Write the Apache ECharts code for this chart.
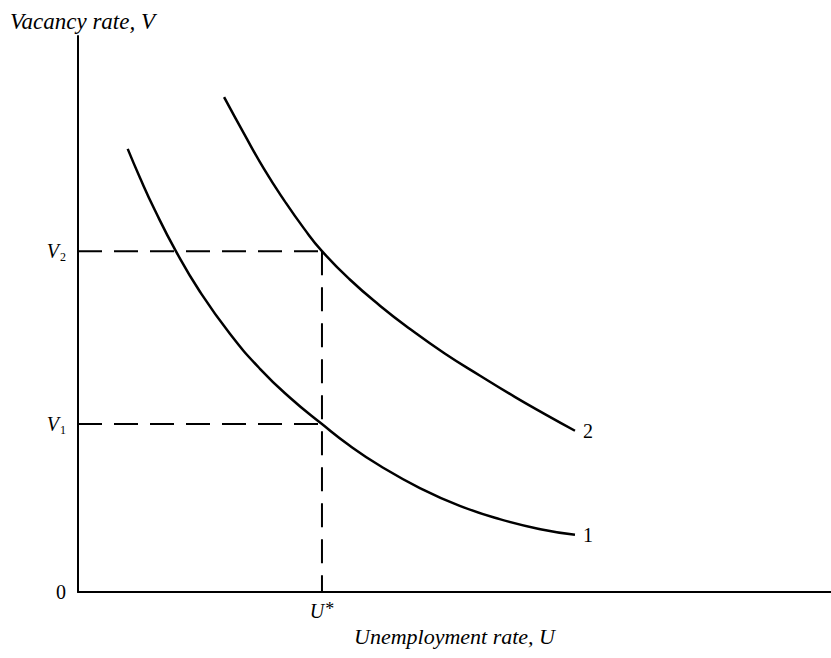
<!DOCTYPE html>
<html>
<head>
<meta charset="utf-8">
<script src="https://cdn.jsdelivr.net/npm/echarts@6/dist/echarts.min.js"></script>
<style>
html,body{margin:0;padding:0;background:#fff;}
#chart{width:831px;height:658px;}
</style>
</head>
<body>
<div id="chart"></div>
<script>
// ---- data (arbitrary 0-100 units) ----
const uStar = 32.4;
const v1 = 30.2;
const v2 = 61.3;

const curve1U = [6.6, 8.2, 10.2, 13.0, 16.2, 20.2, 24.2, 28.2, 32.4, 36.1, 40.1, 45.4, 50.7, 56.0, 61.4, 66.0];
const curve1V = [79.7, 74.6, 68.7, 61.3, 54.0, 46.4, 40.1, 34.9, 30.2, 26.3, 22.7, 18.7, 15.5, 13.1, 11.3, 10.3];

const curve2U = [19.4, 22.1, 24.7, 27.4, 30.0, 32.4, 36.1, 40.1, 44.1, 48.7, 53.4, 58.0, 62.0, 66.0];
const curve2V = [89.0, 82.3, 76.1, 70.4, 65.4, 61.3, 56.2, 51.5, 47.3, 42.9, 38.9, 35.1, 32.0, 29.0];

const curveNames = ['1', '2'];
const yTickValues = [0, v1, v2];
const yTickTexts = ['0', '{v|V}{s|1}', '{v|V}{s|2}'];
const xTickValues = [uStar];
const xTickTexts = ['{v|U}{n|*}'];

const xTitle = 'Unemployment rate, U';
const yTitle = 'Vacancy rate, V';

// ---- chart ----
const SERIF = '"Liberation Serif", "DejaVu Serif", serif';
const zip = (a, b) => a.map((x, i) => [x, b[i]]);
const rich = {
  v: { fontFamily: SERIF, fontStyle: 'italic', fontSize: 20, color: '#000' },
  s: { fontFamily: SERIF, fontSize: 12, color: '#000', padding: [12, 0, 0, 1] },
  n: { fontFamily: SERIF, fontSize: 18, color: '#000', padding: [0, 0, 4, 1] }
};
function labelFor(values, texts) {
  return function (val) {
    for (let i = 0; i < values.length; i++) {
      if (Math.abs(values[i] - val) < 1e-6) return texts[i];
    }
    return '';
  };
}
const dash = [24, 12];
const chart = echarts.init(document.getElementById('chart'), null, { renderer: 'svg' });
chart.setOption({
  animation: false,
  backgroundColor: '#fff',
  title: {
    text: yTitle,
    left: 5, top: 5,
    textStyle: { fontFamily: SERIF, fontStyle: 'italic', fontWeight: 'normal', fontSize: 23, color: '#000' }
  },
  grid: { left: 78, right: 0, top: 36, bottom: 66 },
  xAxis: {
    type: 'value', min: 0, max: 100,
    name: xTitle, nameLocation: 'middle', nameGap: 18,
    nameTextStyle: { fontFamily: SERIF, fontStyle: 'italic', fontSize: 22, color: '#000' },
    axisLine: { show: true, onZero: false, lineStyle: { color: '#000', width: 2 } },
    axisTick: { show: false },
    splitLine: { show: false },
    axisLabel: {
      customValues: xTickValues, margin: 8,
      formatter: labelFor(xTickValues, xTickTexts), rich: rich
    }
  },
  yAxis: {
    type: 'value', min: 0, max: 100,
    axisLine: { show: true, onZero: false, lineStyle: { color: '#000', width: 2 } },
    axisTick: { show: false },
    splitLine: { show: false },
    axisLabel: {
      customValues: yTickValues, margin: 12,
      fontFamily: SERIF, fontSize: 20, color: '#000',
      formatter: labelFor(yTickValues, yTickTexts), rich: rich
    }
  },
  series: [
    {
      type: 'line', data: zip(curve1U, curve1V), smooth: 0.5, symbol: 'none',
      lineStyle: { color: '#000', width: 2.5 },
      endLabel: { show: true, formatter: curveNames[0], distance: 8, fontFamily: SERIF, fontSize: 20, color: '#000' }
    },
    {
      type: 'line', data: zip(curve2U, curve2V), smooth: 0.5, symbol: 'none',
      lineStyle: { color: '#000', width: 2.5 },
      endLabel: { show: true, formatter: curveNames[1], distance: 8, fontFamily: SERIF, fontSize: 20, color: '#000' }
    },
    {
      type: 'line', data: [[0, v2], [uStar, v2]], symbol: 'none',
      lineStyle: { color: '#000', width: 2, type: dash }
    },
    {
      type: 'line', data: [[0, v1], [uStar, v1]], symbol: 'none',
      lineStyle: { color: '#000', width: 2, type: dash }
    },
    {
      type: 'line', data: [[uStar, v2], [uStar, 0]], symbol: 'none',
      lineStyle: { color: '#000', width: 2, type: dash }
    }
  ]
});
</script>
</body>
</html>
